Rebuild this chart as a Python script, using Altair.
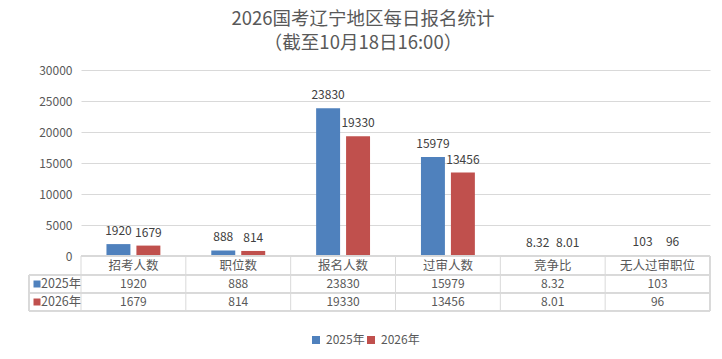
import altair as alt
import pandas as pd

categories = ["招考人数", "职位数", "报名人数", "过审人数", "竞争比", "无人过审职位"]
series = ["2025年", "2026年"]
values_2025 = [1920, 888, 23830, 15979, 8.32, 103]
values_2026 = [1679, 814, 19330, 13456, 8.01, 96]
colors = ["#4f81bd", "#c0504d"]
y_ticks = [0, 5000, 10000, 15000, 20000, 25000, 30000]
title_lines = ["2026国考辽宁地区每日报名统计", "（截至10月18日16:00）"]

FONT = "Noto Sans CJK SC"
W, H = 629, 186
GRID = "#d9d9d9"
TXT = "#595959"

rows = []
for s, vals in zip(series, [values_2025, values_2026]):
    for c, v in zip(categories, vals):
        rows.append({"cat": c, "series": s, "value": v, "label": f"{v:g}"})
df = pd.DataFrame(rows)
cat_df = pd.DataFrame({"cat": categories})
ser_df = pd.DataFrame({"series": series})

xenc = alt.X("cat:N", sort=categories, axis=None,
             scale=alt.Scale(paddingInner=0, paddingOuter=0))
color_scale = alt.Scale(domain=series, range=colors)
yscale = alt.Scale(domain=[0, 30000], nice=False)
yaxis = alt.Axis(values=y_ticks, title=None, domain=False, ticks=False,
                 format="d", labelOverlap=False,
                 labelPadding=9, labelFontSize=12, labelColor=TXT,
                 labelFont=FONT, gridColor=GRID, gridWidth=1)
xoff = alt.XOffset("series:N", sort=series,
                   scale=alt.Scale(paddingInner=0.2, paddingOuter=0.85))

base = alt.Chart(df)

bars = base.mark_bar().encode(
    x=xenc,
    xOffset=xoff,
    y=alt.Y("value:Q", scale=yscale, axis=yaxis),
    color=alt.Color("series:N", scale=color_scale,
                    legend=alt.Legend(orient="none", legendX=229, legendY=264,
                                      direction="horizontal", title=None,
                                      symbolType="square", symbolSize=64,
                                      symbolStrokeWidth=0, labelFontSize=12,
                                      labelFont=FONT, labelColor=TXT,
                                      columnPadding=0, labelOffset=4)),
)

labels = base.mark_text(baseline="alphabetic", dy=-9, fontSize=12, font=FONT,
                        color="#404040").encode(
    x=xenc,
    xOffset=xoff,
    y=alt.Y("value:Q", scale=yscale, axis=yaxis),
    text="label:N",
)

# table header text
header = alt.Chart(cat_df).mark_text(fontSize=12.5, font=FONT, color=TXT,
                                     baseline="middle").encode(
    x=xenc, y=alt.value(196), text="cat:N")

row_y = {"2025年": 214, "2026年": 232}
table_text = []
for s in series:
    table_text.append(
        base.transform_filter(alt.datum.series == s).mark_text(
            fontSize=12, font=FONT, color=TXT, baseline="middle").encode(
            x=xenc, y=alt.value(row_y[s]), text="label:N"))
    sd = ser_df[ser_df.series == s]
    table_text.append(
        alt.Chart(sd).mark_square(size=49, opacity=1).encode(
            x=alt.value(-44), y=alt.value(row_y[s]),
            color=alt.Color("series:N", scale=color_scale, legend=None)))
    table_text.append(
        alt.Chart(sd).mark_text(fontSize=12.5, font=FONT, color=TXT,
                                align="left", baseline="middle").encode(
            x=alt.value(-40), y=alt.value(row_y[s]), text="series:N"))

# table grid lines
vlines = alt.Chart(cat_df).mark_rule(color=GRID, strokeWidth=1).encode(
    x=alt.X("cat:N", sort=categories, axis=None, bandPosition=0,
            scale=alt.Scale(paddingInner=0, paddingOuter=0)),
    y=alt.value(H), y2=alt.value(241))
vline_right = alt.Chart(cat_df).mark_rule(color=GRID).encode(
    x=alt.value(W), y=alt.value(H), y2=alt.value(241))
vline_left = alt.Chart(cat_df).mark_rule(color=GRID).encode(
    x=alt.value(-52), y=alt.value(205), y2=alt.value(241))
hl = []
for yy, x0 in [(H, 0), (205, -52), (223, -52), (241, -52)]:
    hl.append(alt.Chart(cat_df).mark_rule(color=GRID).encode(
        x=alt.value(x0), x2=alt.value(W), y=alt.value(yy)))

title_marks = []
for i, t in enumerate(title_lines):
    title_marks.append(alt.Chart(pd.DataFrame({"t": [t]})).mark_text(
        fontSize=18.5, font=FONT, color=TXT, baseline="middle").encode(
        x=alt.value(282), y=alt.value(-51 + 24 * i), text="t:N"))

chart = alt.layer(bars, labels, header, *table_text, vlines, vline_right,
                  vline_left, *hl, *title_marks).properties(
    width=W, height=H,
    autosize=alt.AutoSizeParams(type="none"),
    padding={"left": 73, "top": 62, "right": 4, "bottom": 90},
).configure(background="white").configure_view(stroke="transparent",
                                               strokeWidth=0)

chart.save("out.html", embed_options={"renderer": "svg", "actions": False})
